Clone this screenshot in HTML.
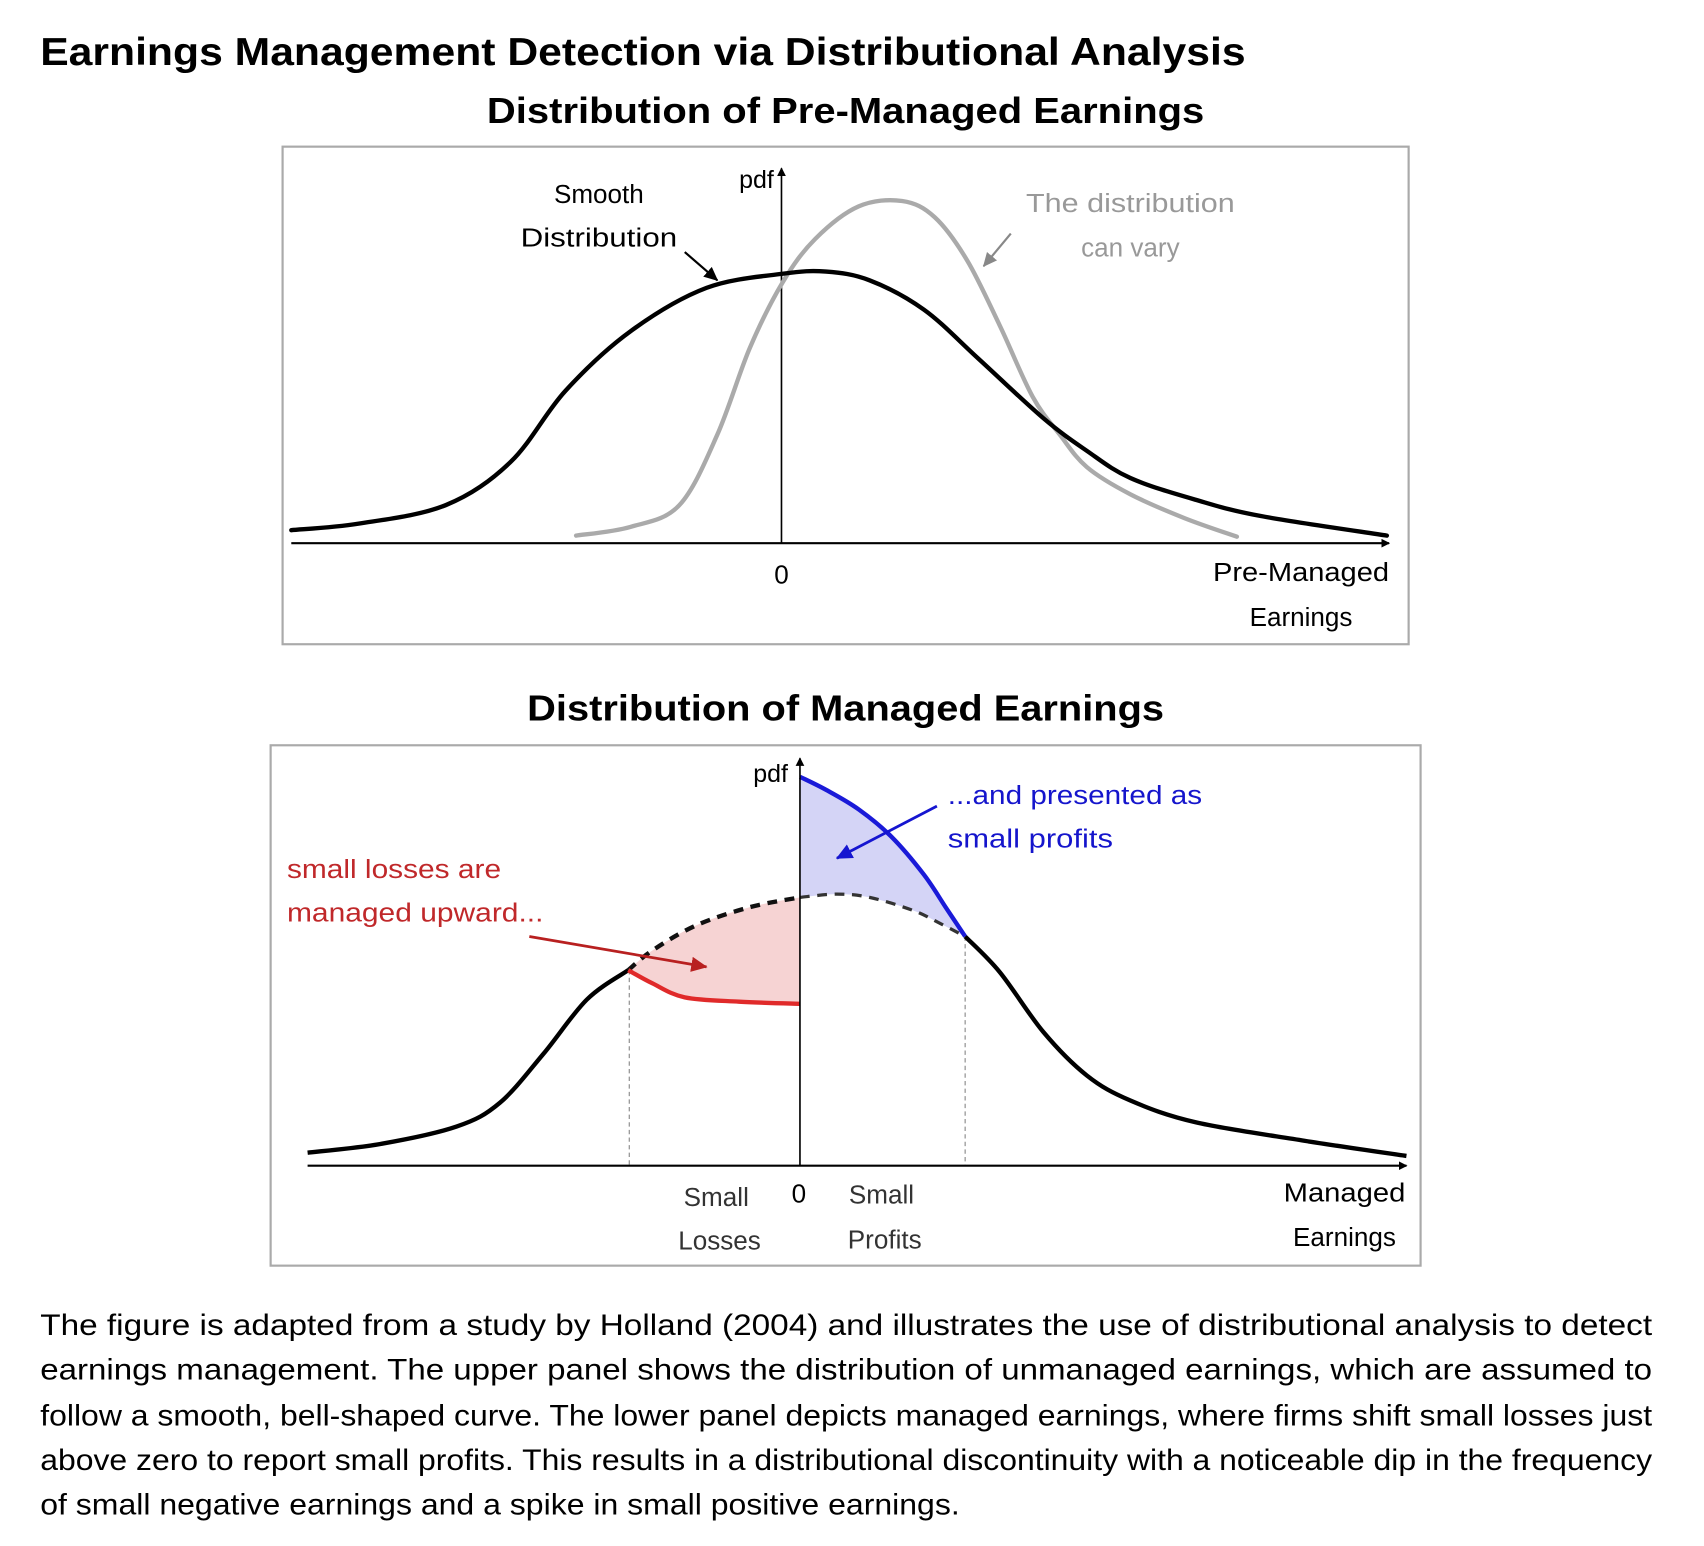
<!DOCTYPE html>
<html><head><meta charset="utf-8">
<style>
html,body{margin:0;padding:0;background:#fff;width:1704px;height:1546px;overflow:hidden}
#wrap{width:1560px;height:1416px;transform:scale(1.0869,1.0864);transform-origin:0 0}
svg text{font-family:"Liberation Sans",sans-serif}
</style></head><body>
<div id="wrap">
<svg id="fig" width="1560" height="1416" viewBox="0 0 1560 1416">
<defs>
<marker id="ah" markerWidth="8" markerHeight="8" refX="7" refY="4" orient="auto" markerUnits="userSpaceOnUse"><path d="M0,0 L8,4 L0,8 z" fill="#000"/></marker>
<marker id="ahb" markerWidth="14" markerHeight="14" refX="12" refY="7" orient="auto" markerUnits="userSpaceOnUse"><path d="M0,1 L13,7 L0,13 z" fill="#000"/></marker>
<marker id="ahg" markerWidth="14" markerHeight="14" refX="12" refY="7" orient="auto" markerUnits="userSpaceOnUse"><path d="M0,1 L13,7 L0,13 z" fill="#888"/></marker>
<marker id="ahr" markerWidth="16" markerHeight="16" refX="14" refY="8" orient="auto" markerUnits="userSpaceOnUse"><path d="M0,1 L15,8 L0,15 z" fill="#b82020"/></marker>
<marker id="ahbl" markerWidth="16" markerHeight="16" refX="14" refY="8" orient="auto" markerUnits="userSpaceOnUse"><path d="M0,1 L15,8 L0,15 z" fill="#1515d0"/></marker>
</defs>
<text x="37" y="60" font-size="36" font-weight="bold" textLength="1109" lengthAdjust="spacingAndGlyphs">Earnings Management Detection via Distributional Analysis</text>
<text x="448" y="113" font-size="33" font-weight="bold" textLength="660" lengthAdjust="spacingAndGlyphs">Distribution of Pre-Managed Earnings</text>
<rect x="260" y="135" width="1036" height="458" fill="none" stroke="#aaa" stroke-width="2"/>
<line x1="268" y1="500" x2="1278" y2="500" stroke="#000" stroke-width="2" marker-end="url(#ah)"/>
<line x1="719" y1="500" x2="719" y2="155" stroke="#000" stroke-width="1.5" marker-end="url(#ah)"/>
<g id="topcurves"></g>
<text x="712" y="173" font-size="23" text-anchor="end">pdf</text>
<text x="551" y="187" font-size="24" text-anchor="middle">Smooth</text>
<text x="551" y="227" font-size="24" text-anchor="middle" textLength="144" lengthAdjust="spacingAndGlyphs">Distribution</text>
<line x1="630" y1="232" x2="660" y2="258" stroke="#000" stroke-width="2" marker-end="url(#ahb)"/>
<text x="1040" y="195" font-size="24" fill="#999" text-anchor="middle" textLength="192" lengthAdjust="spacingAndGlyphs">The distribution</text>
<text x="1040" y="236" font-size="24" fill="#999" text-anchor="middle">can vary</text>
<line x1="930" y1="215" x2="905" y2="245" stroke="#888" stroke-width="2" marker-end="url(#ahg)"/>
<text x="719" y="537" font-size="24" text-anchor="middle">0</text>
<text x="1278" y="535" font-size="24" text-anchor="end" textLength="162" lengthAdjust="spacingAndGlyphs">Pre-Managed</text>
<text x="1197" y="576" font-size="24" text-anchor="middle">Earnings</text>

<text x="485" y="663" font-size="33" font-weight="bold" textLength="586" lengthAdjust="spacingAndGlyphs">Distribution of Managed Earnings</text>
<rect x="249" y="686" width="1058" height="479" fill="none" stroke="#aaa" stroke-width="2"/>
<g id="botcurves"></g>
<line x1="283" y1="1073" x2="1294" y2="1073" stroke="#000" stroke-width="2" marker-end="url(#ah)"/>
<line x1="736" y1="1073" x2="736" y2="698" stroke="#000" stroke-width="1.5" marker-end="url(#ah)"/>
<text x="725" y="720" font-size="23" text-anchor="end">pdf</text>
<text x="264" y="808" font-size="24" fill="#c0282a" textLength="197" lengthAdjust="spacingAndGlyphs">small losses are</text>
<text x="264" y="848" font-size="24" fill="#c0282a" textLength="236" lengthAdjust="spacingAndGlyphs">managed upward...</text>
<line x1="487" y1="862" x2="650" y2="890" stroke="#b82020" stroke-width="2.5" marker-end="url(#ahr)"/>
<text x="872" y="740" font-size="24" fill="#1515cc" textLength="234" lengthAdjust="spacingAndGlyphs">...and presented as</text>
<text x="872" y="780" font-size="24" fill="#1515cc" textLength="152" lengthAdjust="spacingAndGlyphs">small profits</text>
<line x1="862" y1="742" x2="770" y2="790" stroke="#1515d0" stroke-width="2.5" marker-end="url(#ahbl)"/>
<text x="659" y="1110" font-size="24" fill="#333" text-anchor="middle">Small</text>
<text x="662" y="1150" font-size="24" fill="#333" text-anchor="middle">Losses</text>
<text x="735" y="1107" font-size="24" text-anchor="middle">0</text>
<text x="811" y="1108" font-size="24" fill="#333" text-anchor="middle">Small</text>
<text x="814" y="1149" font-size="24" fill="#333" text-anchor="middle">Profits</text>
<text x="1237" y="1106" font-size="24" text-anchor="middle" textLength="112" lengthAdjust="spacingAndGlyphs">Managed</text>
<text x="1237" y="1147" font-size="24" text-anchor="middle">Earnings</text>

<g font-size="27">
<text x="37" y="1229" textLength="1483" lengthAdjust="spacingAndGlyphs">The figure is adapted from a study by Holland (2004) and illustrates the use of distributional analysis to detect</text>
<text x="37" y="1270" textLength="1483" lengthAdjust="spacingAndGlyphs">earnings management. The upper panel shows the distribution of unmanaged earnings, which are assumed to</text>
<text x="37" y="1312" textLength="1483" lengthAdjust="spacingAndGlyphs">follow a smooth, bell-shaped curve. The lower panel depicts managed earnings, where firms shift small losses just</text>
<text x="37" y="1353" textLength="1483" lengthAdjust="spacingAndGlyphs">above zero to report small profits. This results in a distributional discontinuity with a noticeable dip in the frequency</text>
<text x="37" y="1394" textLength="846" lengthAdjust="spacingAndGlyphs">of small negative earnings and a spike in small positive earnings.</text>
</g>
</svg>
</div>
<script>
// Top panel: earnings (x) and pdf values
const topSmoothX = [-4.51,-3.89,-3.09,-2.49,-1.99,-1.39,-0.69,0.01,0.41,0.81,1.31,1.81,2.41,2.81,3.21,3.81,4.41,5.57];
const topSmoothPdf = [0.12,0.18,0.35,0.75,1.40,1.95,2.35,2.48,2.50,2.42,2.15,1.70,1.15,0.85,0.60,0.40,0.25,0.07];
const topVaryX = [-1.89,-1.39,-0.94,-0.59,-0.29,0.01,0.31,0.71,1.11,1.41,1.71,2.01,2.31,2.56,2.81,3.21,3.71,4.19];
const topVaryPdf = [0.07,0.15,0.35,1.00,1.80,2.40,2.80,3.10,3.15,3.00,2.60,2.00,1.35,1.00,0.70,0.45,0.23,0.06];
// Bottom panel
const botLeftX = [-4.53,-3.86,-3.16,-2.76,-2.36,-1.96,-1.58];
const botLeftPdf = [0.12,0.20,0.36,0.58,1.03,1.53,1.80];
const botSmoothX = [-1.58,-1.36,-0.96,-0.46,0.0,0.34,0.64,1.04,1.29,1.52];
const botSmoothPdf = [1.80,1.98,2.21,2.38,2.47,2.50,2.47,2.35,2.23,2.11];
const botRightX = [1.52,1.84,2.24,2.64,3.04,3.64,4.64,5.58];
const botRightPdf = [2.11,1.78,1.23,0.83,0.60,0.40,0.23,0.09];
const lossX = [-1.58,-1.36,-1.06,-0.56,0.0];
const lossPdf = [1.80,1.68,1.55,1.51,1.49];
const profitX = [0.0,0.24,0.54,0.84,1.14,1.34,1.52];
const profitPdf = [3.58,3.46,3.28,3.03,2.68,2.38,2.11];
const boundX = [-1.57,1.52];

const NS='http://www.w3.org/2000/svg';
function tX(v){return 719+v*100;} function tY(v){return 500-v*100;}
function bX(v){return 736+v*100;} function bY(v){return 1073-v*100;}
function P(xs,ys,fx,fy){return xs.map((x,i)=>[fx(x),fy(ys[i])]);}
function smooth(p,start){
  let d=(start?'M':'L')+p[0][0].toFixed(1)+','+p[0][1].toFixed(1);
  for(let i=0;i<p.length-1;i++){
    const p0=p[i-1]||p[i],p1=p[i],p2=p[i+1],p3=p[i+2]||p2;
    const c1=[p1[0]+(p2[0]-p0[0])/6,p1[1]+(p2[1]-p0[1])/6];
    const c2=[p2[0]-(p3[0]-p1[0])/6,p2[1]-(p3[1]-p1[1])/6];
    d+=' C'+c1[0].toFixed(1)+','+c1[1].toFixed(1)+' '+c2[0].toFixed(1)+','+c2[1].toFixed(1)+' '+p2[0].toFixed(1)+','+p2[1].toFixed(1);
  }
  return d;
}
function mk(parent,tag,attrs){const e=document.createElementNS(NS,tag);for(const k in attrs)e.setAttribute(k,attrs[k]);parent.appendChild(e);return e;}
const tg=document.getElementById('topcurves');
let e=mk(tg,'path',{d:smooth(P(topVaryX,topVaryPdf,tX,tY),true),fill:'none',stroke:'#aaa','stroke-width':4,'stroke-linecap':'round'});


e=mk(tg,'path',{d:smooth(P(topSmoothX,topSmoothPdf,tX,tY),true),fill:'none',stroke:'#000','stroke-width':4,'stroke-linecap':'round'});



const bg=document.getElementById('botcurves');
const smL=[],smLy=[],smR=[],smRy=[];
botSmoothX.forEach((x,i)=>{if(x<=0){smL.push(x);smLy.push(botSmoothPdf[i]);} if(x>=0){smR.push(x);smRy.push(botSmoothPdf[i]);}});
e=mk(bg,'path',{d:smooth(P(lossX,lossPdf,bX,bY),true)+' '+smooth(P(smL,smLy,bX,bY).reverse(),false)+' Z',fill:'#f6d3d3',stroke:'none'});


e=mk(bg,'path',{d:smooth(P(profitX,profitPdf,bX,bY),true)+' '+smooth(P(smR,smRy,bX,bY).reverse(),false)+' Z',fill:'#d4d4f6',stroke:'none'});


boundX.forEach((x,i)=>{
  const y=i===0?botLeftPdf[botLeftPdf.length-1]:botRightPdf[0];
  const l=mk(bg,'line',{x1:bX(x),x2:bX(x),y1:bY(y),y2:bY(0),stroke:'#999','stroke-width':1.2,'stroke-dasharray':'4 3'});
  
  
});
e=mk(bg,'path',{d:smooth(P(botLeftX,botLeftPdf,bX,bY),true),fill:'none',stroke:'#000','stroke-width':4});


e=mk(bg,'path',{d:smooth(P(botRightX,botRightPdf,bX,bY),true),fill:'none',stroke:'#000','stroke-width':4});


e=mk(bg,'path',{d:smooth(P(smL,smLy,bX,bY),true),fill:'none',stroke:'#111','stroke-width':4,'stroke-dasharray':'9 7'});


e=mk(bg,'path',{d:smooth(P(smR,smRy,bX,bY),true),fill:'none',stroke:'#333','stroke-width':3,'stroke-dasharray':'9 7'});


e=mk(bg,'path',{d:smooth(P(lossX,lossPdf,bX,bY),true),fill:'none',stroke:'#e02a2a','stroke-width':4});


e=mk(bg,'path',{d:smooth(P(profitX,profitPdf,bX,bY),true),fill:'none',stroke:'#1a1ad8','stroke-width':4});


</script>
</body></html>
